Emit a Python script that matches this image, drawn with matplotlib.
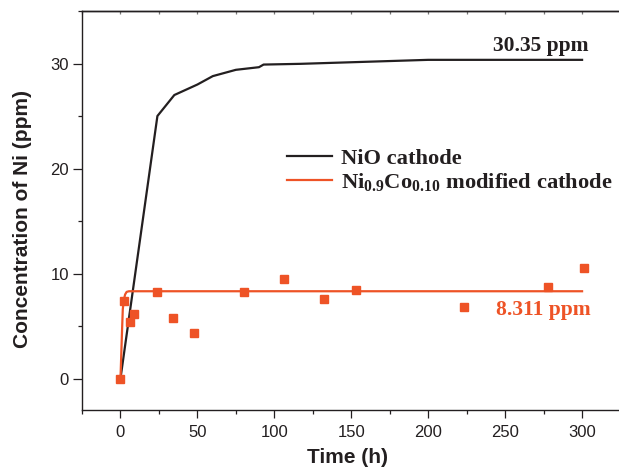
import numpy as np
import matplotlib.pyplot as plt
from matplotlib.ticker import MultipleLocator

# NiO cathode release curve
nio_t = [0, 24, 35, 50, 60, 75, 90, 93, 117, 200, 300]
nio_c = [0, 25.0, 27.0, 28.0, 28.8, 29.4, 29.65, 29.9, 29.97, 30.35, 30.35]

# Ni0.9Co0.10 measured points
co_t = [0, 2, 6, 9, 24, 34, 48, 80, 106, 132, 153, 223, 278, 301]
co_c = [0, 7.4, 5.4, 6.1, 8.2, 5.8, 4.3, 8.2, 9.5, 7.6, 8.4, 6.8, 8.7, 10.5]

# fitted curve
fit_t = [0, 1.0, 1.5, 2.2, 3.0, 4.0, 5.5, 300]
fit_c = [0, 4.5, 6.6, 7.5, 8.0, 8.25, 8.311, 8.311]

dark = "#231f20"
orange = "#ee5326"

fig = plt.figure(figsize=(6.19, 4.71), dpi=100)
ax = fig.add_axes([0.1325, 0.1295, 0.8675, 0.8471])

ax.plot(nio_t, nio_c, color=dark, lw=1.6, label="NiO cathode")
ax.plot(fit_t, fit_c, color=orange, lw=1.6,
        label=r"Ni$_\mathregular{0.9}$Co$_\mathregular{0.10}$ modified cathode")
ax.plot(co_t, co_c, "s", color=orange, ms=5.5, mec=orange)

ax.set_xlim(-25, 324)
ax.set_ylim(-3, 35)
ax.xaxis.set_major_locator(MultipleLocator(50))
ax.xaxis.set_minor_locator(MultipleLocator(25))
ax.yaxis.set_major_locator(MultipleLocator(10))
ax.yaxis.set_minor_locator(MultipleLocator(5))

for s in ax.spines.values():
    s.set_linewidth(1.0)
    s.set_color(dark)
ax.spines["right"].set_visible(False)

ax.tick_params(which="both", direction="out", width=0.9, color=dark,
               labelsize=12, labelcolor=dark, top=False, right=False)
ax.tick_params(axis="x", which="major", length=5.8, pad=5)
ax.tick_params(axis="x", which="minor", length=3)
ax.tick_params(axis="y", which="major", length=6.5, pad=3)
ax.tick_params(axis="y", which="minor", length=3.2)
for lab in ax.get_xticklabels() + ax.get_yticklabels():
    lab.set_fontfamily("Liberation Sans")

top = ax.secondary_xaxis("top")
top.xaxis.set_major_locator(MultipleLocator(25))
top.tick_params(direction="in", length=2, width=0.9, color="#777777",
                labeltop=False)
top.spines["top"].set_linewidth(1.0)

ax.set_xlabel("Time (h)", fontsize=15, fontweight="bold",
              family="Liberation Sans", color=dark, va="center")
ax.set_ylabel("Concentration of Ni (ppm)", fontsize=15, fontweight="bold",
              family="Liberation Sans", color=dark, va="center")
ax.xaxis.set_label_coords(0.495, -0.12)
ax.yaxis.set_label_coords(-0.111, 0.479)

ax.text(242, 31.7, "30.35 ppm", ha="left", va="center", fontsize=15.5,
        fontweight="bold", family="Liberation Serif", color=dark)
ax.text(244, 6.57, "8.311 ppm", ha="left", va="center", fontsize=15.5,
        fontweight="bold", family="Liberation Serif", color=orange)

ax.legend(loc="center left", bbox_to_anchor=(287 / 619, 1 - 171 / 471),
          bbox_transform=fig.transFigure, frameon=False, borderpad=0,
          borderaxespad=0, handlelength=2.0, handletextpad=0.4,
          labelspacing=0.1,
          prop={"family": "Liberation Serif", "weight": "bold", "size": 16.2},
          labelcolor=dark)

fig.savefig("out.png", dpi=100)
